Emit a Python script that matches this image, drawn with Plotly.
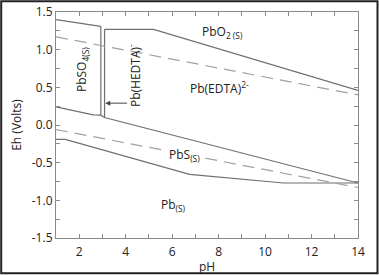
import plotly.graph_objects as go

# ---- data ----
ph_so4_o2 = [1, 2.93]
eh_so4_o2 = [1.40, 1.31]

ph_v1 = [2.93, 2.93]
eh_v1 = [1.31, 0.13]

ph_v2 = [3.09, 3.09]
eh_v2 = [1.27, 0.10]

ph_edta_o2 = [3.09, 5.2, 14]
eh_edta_o2 = [1.27, 1.27, 0.46]

ph_so4_s = [1, 2.6, 2.93, 3.09, 14]
eh_so4_s = [0.24, 0.135, 0.13, 0.10, -0.77]

ph_s_pb = [1, 1.4, 6.75, 10.8, 14]
eh_s_pb = [-0.19, -0.19, -0.655, -0.77, -0.77]

ph_water = [1, 14]
eh_o2_h2o = [1.17, 0.40]
eh_h2o_h2 = [-0.06, -0.83]

x_ticks = [2, 4, 6, 8, 10, 12, 14]
y_ticks = [-1.5, -1.0, -0.5, 0.0, 0.5, 1.0, 1.5]
y_ticklabels = ["-1.5", "-1.0", "-0.5", "0.0", "0.5", "1.0", "1.5"]

solid = "#6f6f6f"
dashc = "#a0a0a0"
font = "Open Sans"

fig = go.Figure()
for xs, ys in [(ph_so4_o2, eh_so4_o2), (ph_v1, eh_v1), (ph_v2, eh_v2),
               (ph_edta_o2, eh_edta_o2), (ph_so4_s, eh_so4_s), (ph_s_pb, eh_s_pb)]:
    fig.add_trace(go.Scatter(x=xs, y=ys, mode="lines",
                             line=dict(color=solid, width=1.2), showlegend=False))
for ys in [eh_o2_h2o, eh_h2o_h2]:
    fig.add_trace(go.Scatter(x=ph_water, y=ys, mode="lines",
                             line=dict(color=dashc, width=1.2, dash="12px,7px"),
                             showlegend=False))

tf = dict(family=font, size=12, color="#222")
ann = [
    dict(x=8.17, y=1.23, text="PbO<sub>2 (S)</sub>"),
    dict(x=8.04, y=0.49, text="Pb(EDTA)<sup>2-</sup>"),
    dict(x=2.12, y=0.73, text="PbSO<sub>4(S)</sub>", textangle=-90),
    dict(x=4.39, y=0.66, text="Pb(HEDTA)<sup>-</sup>", textangle=-90),
    dict(x=6.55, y=-0.40, text="PbS<sub>(S)</sub>", bgcolor="white"),
    dict(x=6.06, y=-1.06, text="Pb<sub>(S)</sub>"),
]
for a in ann:
    fig.add_annotation(xref="x", yref="y", showarrow=False, font=tf, **a)

fig.add_annotation(x=3.12, y=0.29, ax=4.12, ay=0.29, xref="x", yref="y",
                   axref="x", ayref="y", text="", showarrow=True,
                   arrowhead=2, arrowsize=1, arrowwidth=1, arrowcolor="#444")

# outer frame
W, H = 379, 275
l, r, t, b = 56, 21, 12, 37
pw, ph = W - l - r, H - t - b
fig.add_shape(type="rect", xref="paper", yref="paper",
              x0=(1.2 - l) / pw, x1=(W - 1.5 - l) / pw,
              y0=-(H - 1.8 - t - ph) / ph, y1=1 + (t - 1.2) / ph,
              line=dict(color="#222", width=2), layer="above")

axis_common = dict(showgrid=False, zeroline=False, showline=True, linecolor="#8a8a8a",
                   linewidth=1.2, mirror="allticks", ticks="inside", ticklen=4,
                   automargin=False,
                   tickcolor="#8a8a8a", tickfont=dict(family=font, size=12, color="#222"))

fig.update_xaxes(range=[1, 14], tickmode="array", tickvals=x_ticks,
                 minor=dict(dtick=1, ticks="inside", ticklen=4, tickcolor="#8a8a8a"),
                 ticklabelstandoff=2,
                 title=dict(text="pH", font=dict(family=font, size=12, color="#222"), standoff=7),
                 **axis_common)
fig.update_yaxes(range=[-1.5, 1.5], tickmode="array", tickvals=y_ticks, ticktext=y_ticklabels,
                 minor=dict(dtick=0.25, ticks="inside", ticklen=4, tickcolor="#8a8a8a"),
                 title=dict(text="Eh (Volts)", font=dict(family=font, size=12, color="#222"), standoff=7),
                 **axis_common)

fig.update_layout(width=W, height=H, margin=dict(l=l, r=r, t=t, b=b, autoexpand=False),
                  paper_bgcolor="white", plot_bgcolor="white")
fig.write_html("out.html", config={"displayModeBar": False},
               post_script="document.body.style.margin='0';document.body.style.overflow='hidden';")
